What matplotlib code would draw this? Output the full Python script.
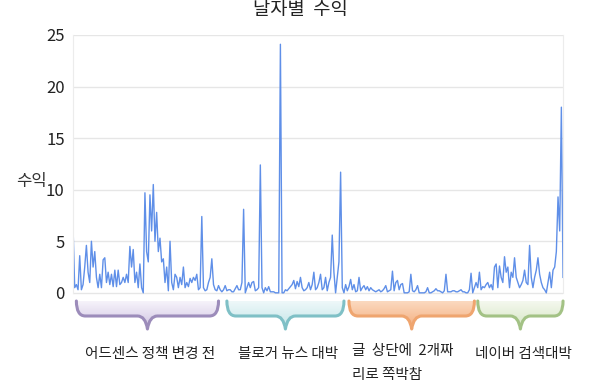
import matplotlib
matplotlib.use("Agg")
import matplotlib.pyplot as plt
import numpy as np
from matplotlib.path import Path
from matplotlib.patches import PathPatch
from matplotlib.colors import LinearSegmentedColormap

plt.rcParams['font.family'] = ['Noto Sans CJK KR', 'DejaVu Sans']

# daily revenue
revenue = [
    6.5, 0.5, 0.8, 0.3, 3.6, 0.3, 0.8, 2.5, 4.6, 2.0,
    1.0, 5.0, 2.5, 4.0, 1.5, 0.5, 1.8, 0.5, 3.2, 3.4,
    1.0, 2.0, 0.8, 1.8, 0.6, 2.2, 0.6, 2.2, 0.8, 1.0,
    1.5, 1.0, 1.8, 1.0, 4.5, 2.5, 4.2, 1.0, 2.0, 0.5,
    2.8, 0.5, 0.0, 9.7, 4.0, 3.0, 9.5, 6.0, 10.5, 5.0,
    7.8, 4.0, 5.3, 3.0, 3.3, 1.0, 2.5, 0.2, 5.0, 1.0,
    0.3, 1.8, 1.5, 0.5, 1.5, 0.8, 2.5, 0.5, 1.0, 0.6,
    1.4, 1.0, 1.5, 1.2, 1.8, 0.3, 0.5, 7.4, 0.5, 0.2,
    0.3, 1.0, 1.5, 3.3, 0.8, 0.3, 0.2, 0.7, 0.3, 0.1,
    0.3, 0.7, 0.2, 0.3, 0.3, 0.1, 0.1, 0.4, 0.7, 0.3,
    0.3, 1.0, 8.1, 0.0, 0.5, 1.0, 0.5, 1.0, 1.1, 0.2,
    0.3, 0.5, 12.4, 0.5, 0.0, 0.5, 0.2, 0.6, 0.1, 0.1,
    0.1, 0.0, 0.0, 0.0, 24.1, 0.0, 0.0, 0.3, 0.2, 0.4,
    0.6, 0.8, 1.2, 0.4, 1.1, 0.6, 1.5, 0.5, 0.2, 0.3,
    0.5, 1.0, 0.3, 0.8, 2.0, 0.3, 0.5, 1.0, 1.8, 0.3,
    0.5, 1.5, 0.2, 1.0,
    1.5, 5.6, 2.0, 0.0, 1.5, 3.0, 11.7, 0.5, 0.0, 0.8,
    0.2, 0.6, 1.3, 0.3, 0.8, 0.1, 0.2, 1.5, 0.2, 0.5,
    0.7, 0.3, 0.6, 0.2, 0.5, 0.3, 0.2, 0.1, 0.2, 0.3,
    0.1, 0.2, 0.4, 0.7, 0.1, 0.2, 0.3, 2.1, 0.2, 1.0,
    1.2, 0.3, 0.8, 0.9, 0.0, 0.0, 0.0, 0.1, 1.8, 0.2,
    0.1, 0.3, 0.7, 0.0, 0.0, 0.0, 0.0, 0.1, 0.5, 0.0,
    0.0, 0.1, 0.2, 0.4, 0.2, 0.2, 0.1, 0.0, 0.2, 1.8,
    0.1, 0.1, 0.1, 0.2, 0.2, 0.1, 0.1, 0.2, 0.3, 0.1,
    0.1, 0.0, 0.0, 0.3, 1.9, 0.0, 0.5, 1.0, 0.5, 2.0,
    0.3, 0.6, 0.5, 0.8, 1.0, 0.5, 0.8, 0.3, 2.5, 2.8,
    0.5, 2.6, 1.5, 1.0, 3.5, 2.0, 2.5, 0.5, 2.0, 1.5,
    3.4, 1.5, 1.0, 0.5, 0.8, 1.2, 2.2, 1.0, 0.8, 4.6,
    1.5, 0.5, 1.5, 2.2, 3.4, 1.8, 1.0, 0.5, 0.3, 0.0,
    1.0, 2.0, 0.5, 2.2, 2.5, 4.0, 9.3, 6.0, 18.0, 1.5,
]
y_ticks = [0, 5, 10, 15, 20, 25]

# periods marked under the chart: label, first day, last day
periods = ["어드센스 정책 변경 전", "블로거 뉴스 대박", "글  상단에  2개짜\n리로 쪽박참", "네이버 검색대박"]
period_start = [2, 92, 165, 242]
period_end = [87, 162, 240, 293]

fig = plt.figure(figsize=(6, 3.87), dpi=100)
ax = fig.add_axes([0.1217, 0.230, 0.8167, 0.6796])

days = np.arange(len(revenue))
ax.plot(days, revenue, color="#5f8fe8", lw=1.0)

ax.set_xlim(0, len(revenue) - 1)
ax.set_ylim(-0.5, 25)
ax.set_yticks(y_ticks)
ax.set_xticks([])
ax.tick_params(axis="y", length=0, labelsize=12, labelcolor="#222222", pad=6)
ax.grid(axis="y", color="#e6e6e6", lw=1)
ax.set_axisbelow(True)
for side in ["top", "bottom"]:
    ax.spines[side].set_visible(False)
for side in ["left", "right"]:
    ax.spines[side].set_color("#ececec")
    ax.spines[side].set_bounds(0, 25)

fig.text(0.5, 0.975, "날자별  수익", ha="center", va="center", fontsize=13.5, color="#222222")
fig.text(0.052, 0.53, "수익", ha="center", va="center", fontsize=12, color="#333333")

# braces under the plot, drawn in pixel space of an overlay
ov = fig.add_axes([0, 0, 1, 1], zorder=3)
ov.set_xlim(0, 600)
ov.set_ylim(387, 0)
ov.axis("off")

edge_colors = ["#9c8cba", "#7fc0c6", "#efa56f", "#a3c285"]
top_colors = ["#f6f3fa", "#eef8f9", "#fbd9bf", "#f4f8ee"]
fill_colors = ["#cfc3e2", "#c2e5e8", "#f4ad7c", "#d5e6c3"]


def day_to_px(d):
    disp = ax.transData.transform((d, 0))
    return ov.transData.inverted().transform(disp)[0]


for i, label in enumerate(periods):
    x0 = day_to_px(period_start[i])
    x1 = day_to_px(period_end[i])
    xm = (x0 + x1) / 2
    yt, yb, ytip = 301, 316, 329
    r = 9
    verts = [(x0, yt), (x0, yb), (x0 + r, yb),
             (xm - 10, yb), (xm - 2, yb), (xm, ytip),
             (xm + 2, yb), (xm + 10, yb),
             (x1 - r, yb), (x1, yb), (x1, yt), (x0, yt)]
    codes = [Path.MOVETO, Path.CURVE3, Path.CURVE3,
             Path.LINETO, Path.CURVE3, Path.CURVE3,
             Path.CURVE3, Path.CURVE3,
             Path.LINETO, Path.CURVE3, Path.CURVE3, Path.CLOSEPOLY]
    path = Path(verts, codes)
    grad = np.linspace(0, 1, 50).reshape(-1, 1)
    cmap = LinearSegmentedColormap.from_list("g", [top_colors[i], fill_colors[i]])
    # row 0 at the top (yt), last row at the tip
    im = ov.imshow(grad, cmap=cmap, extent=[x0, x1, ytip, yt], aspect="auto",
                   origin="upper", zorder=1)
    patch = PathPatch(path, facecolor="none", edgecolor="none")
    ov.add_patch(patch)
    im.set_clip_path(patch)
    ov.add_patch(PathPatch(Path(verts[:11], codes[:11]), facecolor="none",
                           edgecolor=edge_colors[i], lw=2.2, zorder=2,
                           capstyle="round", joinstyle="round"))
    if "\n" in label:
        ov.text(x0 + 3, 344, label, ha="left", va="top", fontsize=10.5,
                color="#222222", linespacing=1.9)
    else:
        ov.text(xm + 3, 354, label, ha="center", va="center", fontsize=10.5, color="#222222")

ov.set_xlim(0, 600)
ov.set_ylim(387, 0)

fig.savefig("out.png", dpi=100)
